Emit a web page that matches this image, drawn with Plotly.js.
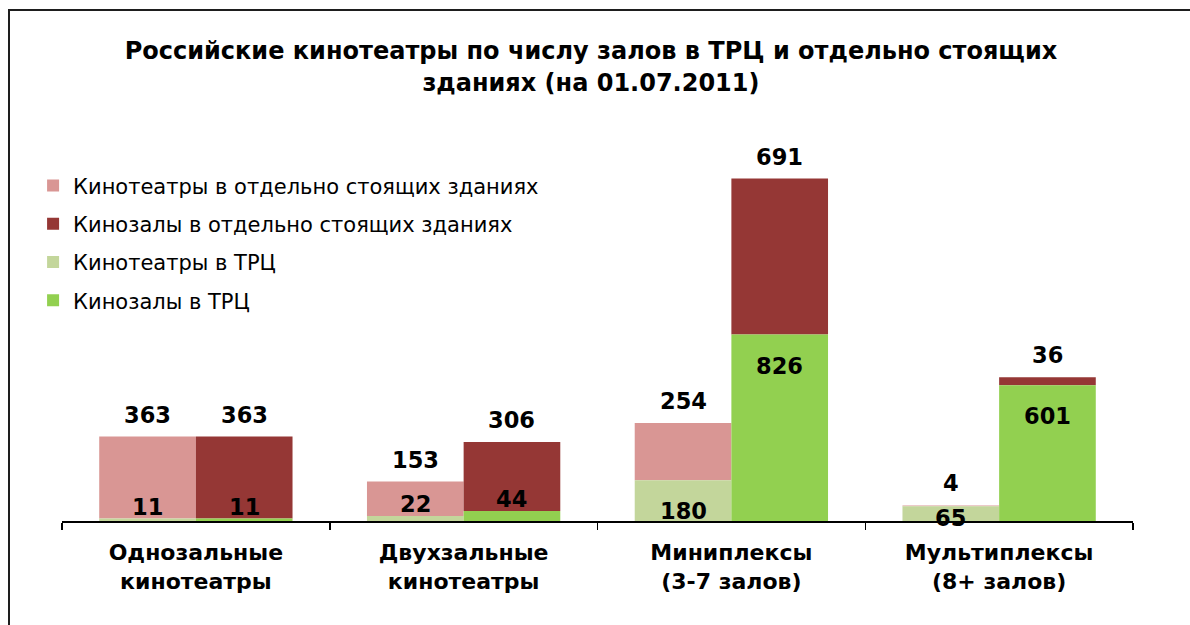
<!DOCTYPE html>
<html><head><meta charset="utf-8">
<script src="https://cdn.plot.ly/plotly-3.0.1.min.js"></script>
<style>
html,body{margin:0;padding:0;overflow:hidden;background:#fff}
#chart{position:absolute;left:0;top:0;width:1190px;height:625px}
#frame{position:absolute;left:8px;top:9px;width:3000px;height:3000px;border-left:2px solid #1e1e1e;border-top:2px solid #1e1e1e;pointer-events:none}
</style></head><body>
<div id="chart"></div>
<div id="frame"></div>
<script>
const categories = ["Однозальные<br>кинотеатры", "Двухзальные<br>кинотеатры", "Миниплексы<br>(3-7 залов)", "Мультиплексы<br>(8+ залов)"];
const cinemasTRC = [11, 22, 180, 65];
const cinemasStandalone = [363, 153, 254, 4];
const hallsTRC = [11, 44, 826, 601];
const hallsStandalone = [363, 306, 691, 36];
const seriesNames = ["Кинотеатры в отдельно стоящих зданиях", "Кинозалы в отдельно стоящих зданиях", "Кинотеатры в ТРЦ", "Кинозалы в ТРЦ"];
const titleText = "Российские кинотеатры по числу залов в ТРЦ и отдельно стоящих<br>зданиях (на 01.07.2011)";

const colors = {pink: "#D99694", darkred: "#953735", lightgreen: "#C3D69B", green: "#92D050"};
const FONT = "DejaVu Sans, Verdana, sans-serif";
const W = 1190, H = 625;
const M = {l: 62, r: 57, t: 100, b: 104};
const YMAX = 1865;
const BARGAP = 0.278;
const plotW = W - M.l - M.r, plotH = H - M.t - M.b;
const pxPerUnit = plotH / YMAX;
const catW = plotW / categories.length;
const barW = catW * (1 - BARGAP) / 2;

const sum = (a, b) => a.map((v, i) => v + b[i]);

const traces = [
  {type: "bar", name: seriesNames[0], x: categories, y: cinemasStandalone, base: cinemasTRC, offsetgroup: "c", legendgroup: "g1", marker: {color: colors.pink}},
  {type: "bar", name: seriesNames[1], x: categories, y: hallsStandalone, base: hallsTRC, offsetgroup: "h", legendgroup: "g2", marker: {color: colors.darkred}},
  {type: "bar", name: seriesNames[2], x: categories, y: cinemasTRC, offsetgroup: "c", legendgroup: "g3", marker: {color: colors.lightgreen}},
  {type: "bar", name: seriesNames[3], x: categories, y: hallsTRC, offsetgroup: "h", legendgroup: "g4", marker: {color: colors.green}}
];
traces.forEach(t => { t.hoverinfo = "none"; });

const labelFont = {family: FONT, size: 22.5, color: "#000", weight: "bold"};
const annotations = [];
function topLabels(totals, trc, shift) {
  totals.forEach((v, i) => annotations.push({x: categories[i], y: v, xref: "x", yref: "y", text: "<b>" + (v - trc[i]) + "</b>", showarrow: false, yanchor: "bottom", yshift: 7, xshift: shift * barW / 2, font: labelFont}));
}
topLabels(sum(cinemasTRC, cinemasStandalone), cinemasTRC, -1);
topLabels(sum(hallsTRC, hallsStandalone), hallsTRC, 1);
function trcLabels(vals, shift) {
  vals.forEach((v, i) => {
    const px = v * pxPerUnit;
    let ys;
    if (v < 50) ys = 12; else ys = -Math.min(31, px - 3);
    annotations.push({x: categories[i], y: v, xref: "x", yref: "y", text: "<b>" + v + "</b>", showarrow: false, yanchor: "middle", yshift: ys, xshift: shift * barW / 2, font: labelFont});
  });
}
trcLabels(cinemasTRC, -1);
trcLabels(hallsTRC, 1);

const layout = {
  width: W, height: H,
  margin: M,
  paper_bgcolor: "#fff", plot_bgcolor: "#fff",
  barmode: "group", bargap: BARGAP, bargroupgap: 0,
  title: {text: "<b>" + titleText + "</b>", x: 0.4966, xanchor: "center", y: 0.905, yanchor: "top", yref: "container", font: {family: FONT, size: 24, color: "#000"}},
  font: {family: FONT, color: "#000"},
  xaxis: {type: "category", showline: true, linecolor: "#000", linewidth: 2, ticks: "outside", tickson: "boundaries", ticklen: 7, tickwidth: 1.5, tickcolor: "#000", ticklabelstandoff: 11, tickfont: {family: FONT, size: 22, color: "#000", weight: "bold"}, showgrid: false, zeroline: false, fixedrange: true},
  yaxis: {range: [0, YMAX], visible: false, showgrid: false, zeroline: false, fixedrange: true},
  legend: {x: -0.027, xanchor: "left", y: 0.845, yanchor: "top", traceorder: "grouped", tracegroupgap: 8, font: {family: FONT, size: 21, color: "#000"}, bgcolor: "rgba(0,0,0,0)"},
  annotations: annotations,
  showlegend: true
};
Plotly.newPlot("chart", traces, layout, {displayModeBar: false, staticPlot: true});
</script>
</body></html>
